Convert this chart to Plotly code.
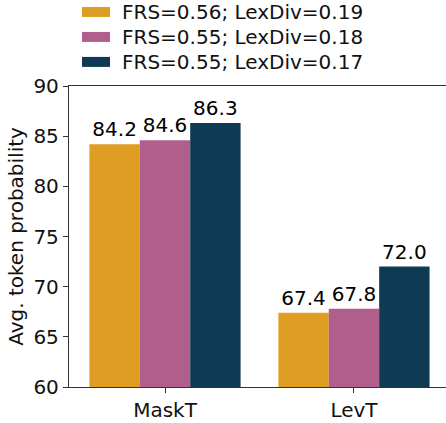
import plotly.graph_objects as go

categories = ["MaskT", "LevT"]
series_names = ["FRS=0.56; LexDiv=0.19", "FRS=0.55; LexDiv=0.18", "FRS=0.55; LexDiv=0.17"]
series_values = [
    [84.2, 67.4],
    [84.6, 67.8],
    [86.3, 72.0],
]
colors = ["#E09D24", "#B05F8D", "#0E3A53"]
y_ticks = [60, 65, 70, 75, 80, 85, 90]

FONT = "DejaVu Sans"
fig = go.Figure()
for name, vals, col in zip(series_names, series_values, colors):
    fig.add_trace(go.Bar(
        x=categories, y=vals, name=name, marker_color=col, marker_line_width=0,
        text=[f"{v:.1f}" for v in vals], textposition="outside",
        textfont=dict(size=20, color="black", family=FONT),
        cliponaxis=False, showlegend=False,
    ))

# manual legend (wide patches like the reference)
leg_y = [1.246, 1.163, 1.080]
for name, col, yy in zip(series_names, colors, leg_y):
    fig.add_shape(type="rect", xref="paper", yref="paper",
                  x0=0.0345, x1=0.1088, y0=yy - 0.0166, y1=yy + 0.0166,
                  fillcolor=col, line_width=0)
    fig.add_annotation(xref="paper", yref="paper", x=0.135, y=yy, text=name,
                       showarrow=False, xanchor="left", yanchor="middle",
                       font=dict(size=20, color="#111111", family=FONT))

fig.update_layout(
    width=446, height=423,
    margin=dict(l=69, r=0, t=86, b=36),
    barmode="group", bargap=0.2, bargroupgap=0,
    plot_bgcolor="white", paper_bgcolor="white",
    font=dict(family=FONT, size=20, color="#111111"),
    xaxis=dict(range=[-0.508, 1.487], showline=True, linecolor="#333333", linewidth=1.3,
               mirror=True, ticks="outside", ticklen=5, tickcolor="#333333",
               showgrid=False, tickfont=dict(size=20)),
    yaxis=dict(range=[60, 90], tickvals=y_ticks, showline=True, linecolor="#333333",
               linewidth=1.3, ticks="outside", ticklen=5, tickcolor="#333333",
               showgrid=False, zeroline=False, tickfont=dict(size=20),
               title=dict(text="Avg. token probability", font=dict(size=20), standoff=4)),
)
# remove the page's default 8px body margin so the figure fills the window exactly
fig.write_html("out.html", config={"displayModeBar": False},
               post_script="document.body.style.margin='0';document.body.style.overflow='hidden';")
